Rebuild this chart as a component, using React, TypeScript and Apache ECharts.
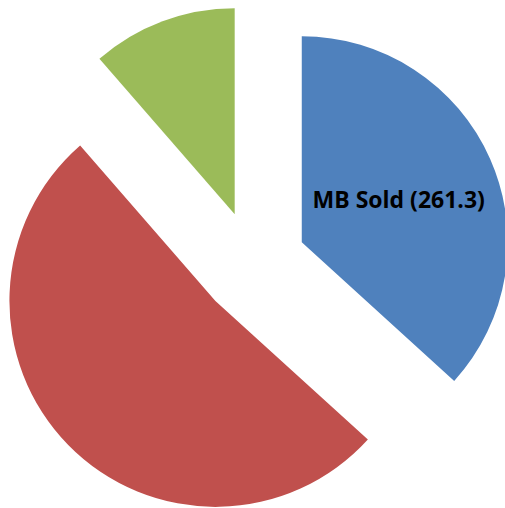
import React, { useEffect, useRef } from "react";
import * as echarts from "echarts";

const categories = ["MB Sold", "Other A", "Other B"];
const values = [261.3, 368.8, 81.1];
const colors = ["#4F81BD", "#C0504D", "#9BBB59"];
const showLabel = [true, false, false];

export default function App() {
  const ref = useRef<HTMLDivElement>(null);
  useEffect(() => {
    if (!ref.current) return;
    const chart = echarts.init(ref.current, undefined, { renderer: "svg" });
    chart.setOption({
      animation: false,
      series: [
        {
          type: "pie",
          center: [253.3, 263.8],
          radius: 206,
          startAngle: 90,
          clockwise: true,
          selectedMode: "multiple",
          selectedOffset: 53,
          emphasis: { disabled: true },
          labelLine: { show: false },
          data: categories.map((name, i) => ({
            name,
            value: values[i],
            selected: true,
            itemStyle: { color: colors[i] },
            label: {
              show: showLabel[i],
              position: "inside",
              formatter: (p: any) => `${p.name} (${p.value})`,
              color: "#000000",
              fontFamily: "Open Sans",
              fontWeight: "bold",
              fontSize: 23,
              offset: [4, 0],
            },
          })),
        },
      ],
    });
    return () => chart.dispose();
  }, []);
  return (
    <div
      ref={ref}
      style={{ position: "fixed", left: 0, top: 0, width: 505, height: 508, background: "#ffffff" }}
    />
  );
}
